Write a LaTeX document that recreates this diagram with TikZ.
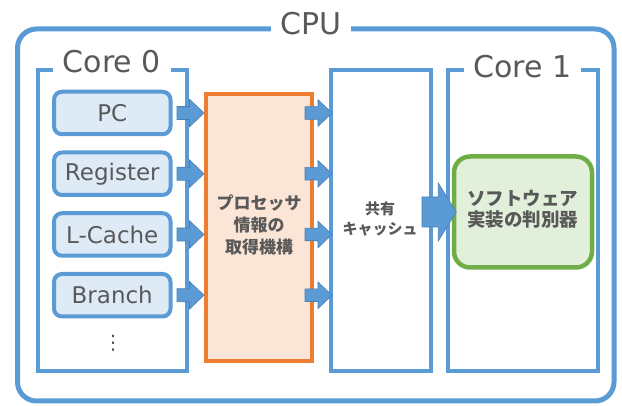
\documentclass[tikz,border=0pt]{standalone}
\usepackage{fontspec}
\setmainfont{DejaVu Sans}
\newfontfamily\jpfont{Noto Sans CJK JP}
\usetikzlibrary{calc}
\definecolor{blueline}{HTML}{5B9BD5}
\definecolor{bluefill}{HTML}{DEEBF7}
\definecolor{orangeline}{HTML}{ED7D31}
\definecolor{orangefill}{HTML}{FBE5D6}
\definecolor{greenline}{HTML}{70AD47}
\definecolor{greenfill}{HTML}{E2EFDA}
\definecolor{txt}{HTML}{595959}
\definecolor{arrowedge}{HTML}{4A7FB5}
\tikzset{
  cpubox/.style={draw=blueline, line width=5pt, rounded corners=19pt, minimum width=596.5pt, minimum height=372pt, inner sep=0pt},
  corebox/.style={draw=blueline, line width=4pt, minimum height=301.5pt, inner sep=0pt},
  regbox/.style={draw=blueline, fill=bluefill, line width=4pt, rounded corners=8pt, minimum width=116.5pt, minimum height=42.5pt, inner sep=0pt, text=txt, font=\fontsize{23}{27}\selectfont},
  orangebox/.style={draw=orangeline, fill=orangefill, line width=4pt, minimum width=105.5pt, minimum height=266.5pt, inner sep=0pt},
  greenbox/.style={draw=greenline, fill=greenfill, line width=4.5pt, rounded corners=16pt, minimum width=138pt, minimum height=111pt, inner sep=0pt},
  biglabel/.style={fill=white, text=txt, font=\fontsize{30}{34}\selectfont, inner ysep=2pt},
  jptext/.style={text=txt, align=center, inner sep=0pt},
  blockarrow/.style={fill=blueline, draw=arrowedge, line width=0.6pt, line join=miter},
}
% #1 start coordinate name, #2 end coordinate name, #3 shaft half, #4 head half, #5 head length
\newcommand{\harrow}[5]{%
  \filldraw[blockarrow] let \p1=(#1), \p2=(#2) in
    (\x1,{\y1+#3pt}) -- ({\x2-#5pt},{\y1+#3pt}) -- ({\x2-#5pt},{\y1+#4pt}) -- (\x2,\y1)
    -- ({\x2-#5pt},{\y1-#4pt}) -- ({\x2-#5pt},{\y1-#3pt}) -- (\x1,{\y1-#3pt}) -- cycle;}
\begin{document}
\begin{tikzpicture}[x=1pt,y=-1pt]
\useasboundingbox (0,0) rectangle (622,406);
% CPU
\node[cpubox] (cpu) at (315.75,215) {};
% cores
\node[corebox, minimum width=149.5pt] (core0) at (112.25,220.75) {};
\node[corebox, minimum width=100pt] (shared) at (381,220.75) {};
\node[corebox, minimum width=150pt] (core1) at (522.5,220.75) {};
% labels on frames
\node[biglabel, inner xsep=9.5pt] (cpulabel) at (311,23.5) {CPU};
\node[biglabel, inner xsep=10pt] (core0label) at (112,61.5) {Core 0};
\node[biglabel, inner xsep=9.5pt] (core1label) at (522.5,67) {Core 1};
% register boxes
\node[regbox] (pc) at (112.25,113) {PC};
\node[regbox] (reg) at (112.25,173.75) {Register};
\node[regbox] (lc) at (112.25,234.5) {L-Cache};
\node[regbox] (br) at (112.25,295.25) {Branch};
\node[text=txt, font=\fontsize{20}{20}\selectfont, inner sep=0pt] (dots) at (113,343) {⋮};
% orange box
\node[orangebox] (orange) at (258.75,227.75) {};
\node[jptext, font=\jpfont\bfseries\fontsize{17}{22}\selectfont] (orangetext) at (259,225) {プロセッサ\\情報の\\取得機構};
% shared text
\node[jptext, font=\jpfont\bfseries\fontsize{15}{20}\selectfont] (sharedtext) at (380,219) {共有\\キャッシュ};
% green box
\node[greenbox] (green) at (523,212) {};
\node[jptext, font=\jpfont\bfseries\fontsize{18.5}{21}\selectfont] (greentext) at (522.5,209.5) {ソフトウェア\\実装の判別器};
% arrow end points
\foreach \n in {pc,reg,lc,br}{
  \coordinate (\n-s1) at ($(\n.east)+(4.5,0)$);
  \coordinate (\n-e1) at (orange.west |- \n.east);
  \coordinate (\n-s2) at ($(orange.east |- \n.east)+(-8.5,0)$);
  \coordinate (\n-e2) at ($(shared.west |- \n.east)+(3,0)$);
}
\coordinate (big-s) at ($(shared.east |- green.west)+(-11,0)$);
\coordinate (big-e) at ($(green.west)+(4.5,0)$);
% arrows into orange box
\harrow{pc-s1}{pc-e1}{6.5}{13.8}{14.5}
\harrow{reg-s1}{reg-e1}{6.5}{13.8}{14.5}
\harrow{lc-s1}{lc-e1}{6.5}{13.8}{14.5}
\harrow{br-s1}{br-e1}{6.5}{13.8}{14.5}
% arrows into shared cache
\harrow{pc-s2}{pc-e2}{6.3}{13.3}{14}
\harrow{reg-s2}{reg-e2}{6.3}{13.3}{14}
\harrow{lc-s2}{lc-e2}{6.3}{13.3}{14}
\harrow{br-s2}{br-e2}{6.3}{13.3}{14}
% big arrow
\harrow{big-s}{big-e}{15}{29}{18}
\end{tikzpicture}
\end{document}
